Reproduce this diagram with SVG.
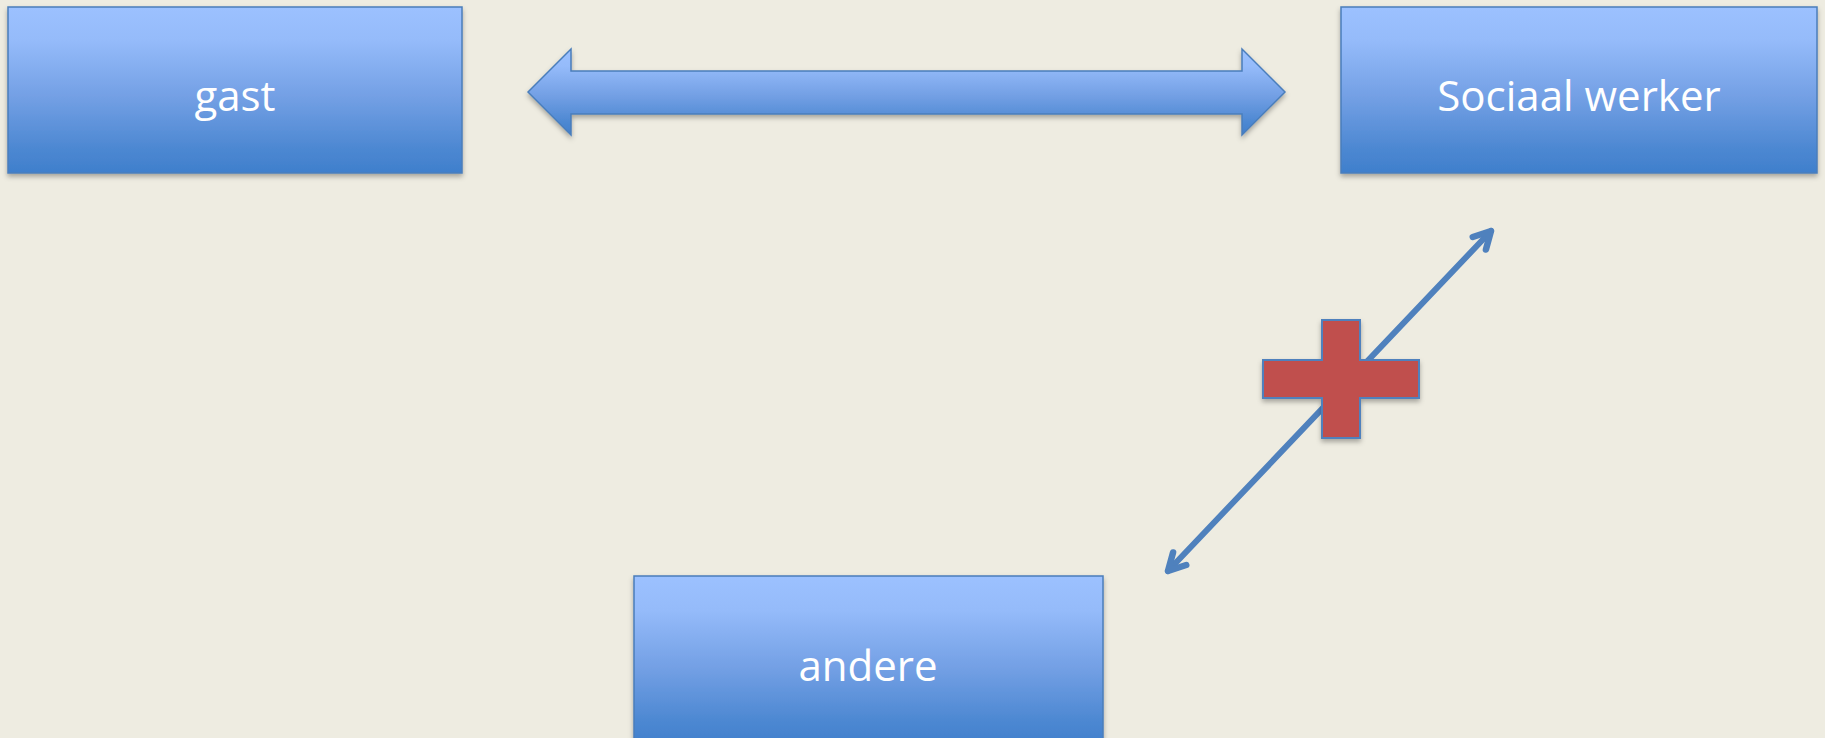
<svg xmlns="http://www.w3.org/2000/svg" width="1825" height="738" viewBox="0 0 1825 738">
<defs>
<linearGradient id="blue" x1="0" y1="0" x2="0" y2="1">
<stop offset="0" stop-color="#9cc1ff"/>
<stop offset="0.2" stop-color="#95bbfa"/>
<stop offset="0.55" stop-color="#729fe4"/>
<stop offset="0.85" stop-color="#4d88d2"/>
<stop offset="1" stop-color="#3f7fcc"/>
</linearGradient>
<filter id="sh" x="-5%" y="-5%" width="110%" height="120%">
<feDropShadow dx="0" dy="3" stdDeviation="2.5" flood-color="#000" flood-opacity="0.3"/>
</filter>
<marker id="ah" viewBox="0 0 10 10" refX="8.3" refY="5" markerWidth="4.2" markerHeight="4.2" orient="auto-start-reverse" markerUnits="strokeWidth">
<path d="M1.6,1.4 L8.3,5 L1.6,8.6" fill="none" stroke="#4f81bd" stroke-width="2.6" stroke-linecap="round" stroke-linejoin="round"/>
</marker>
</defs>
<style>
.box{fill:url(#blue);stroke:#4a7ebb;stroke-width:1.5;filter:url(#sh)}
.lbl{fill:#fff;font-family:"Open Sans","Noto Sans",sans-serif;font-size:42px;text-anchor:middle;dominant-baseline:central}
</style>
<rect width="1825" height="738" fill="#eeece1"/>
<g id="connectors">
<path d="M528,92 L571,49 L571,71 L1242,71 L1242,49 L1285,92 L1242,135 L1242,114 L571,114 L571,135 Z" fill="url(#blue)" stroke="#4a7ebb" stroke-width="1.5" filter="url(#sh)"/>
<line x1="1168" y1="571" x2="1491" y2="231" stroke="#4f81bd" stroke-width="6" stroke-linecap="round" marker-start="url(#ah)" marker-end="url(#ah)"/>
</g>
<g id="gast">
<rect class="box" x="8" y="7" width="454" height="166"/>
<text class="lbl" x="235" y="94">gast</text>
</g>
<g id="sociaal">
<rect class="box" x="1341" y="7" width="476" height="166"/>
<text class="lbl" x="1579" y="94">Sociaal werker</text>
</g>
<g id="andere">
<rect class="box" x="634" y="576" width="469" height="170"/>
<text class="lbl" x="868" y="664">andere</text>
</g>
<g id="plus">
<path d="M1322,320 L1360,320 L1360,360 L1419,360 L1419,398 L1360,398 L1360,438 L1322,438 L1322,398 L1263,398 L1263,360 L1322,360 Z" fill="#c0504d" stroke="#4f81bd" stroke-width="2" filter="url(#sh)"/>
</g>
</svg>
